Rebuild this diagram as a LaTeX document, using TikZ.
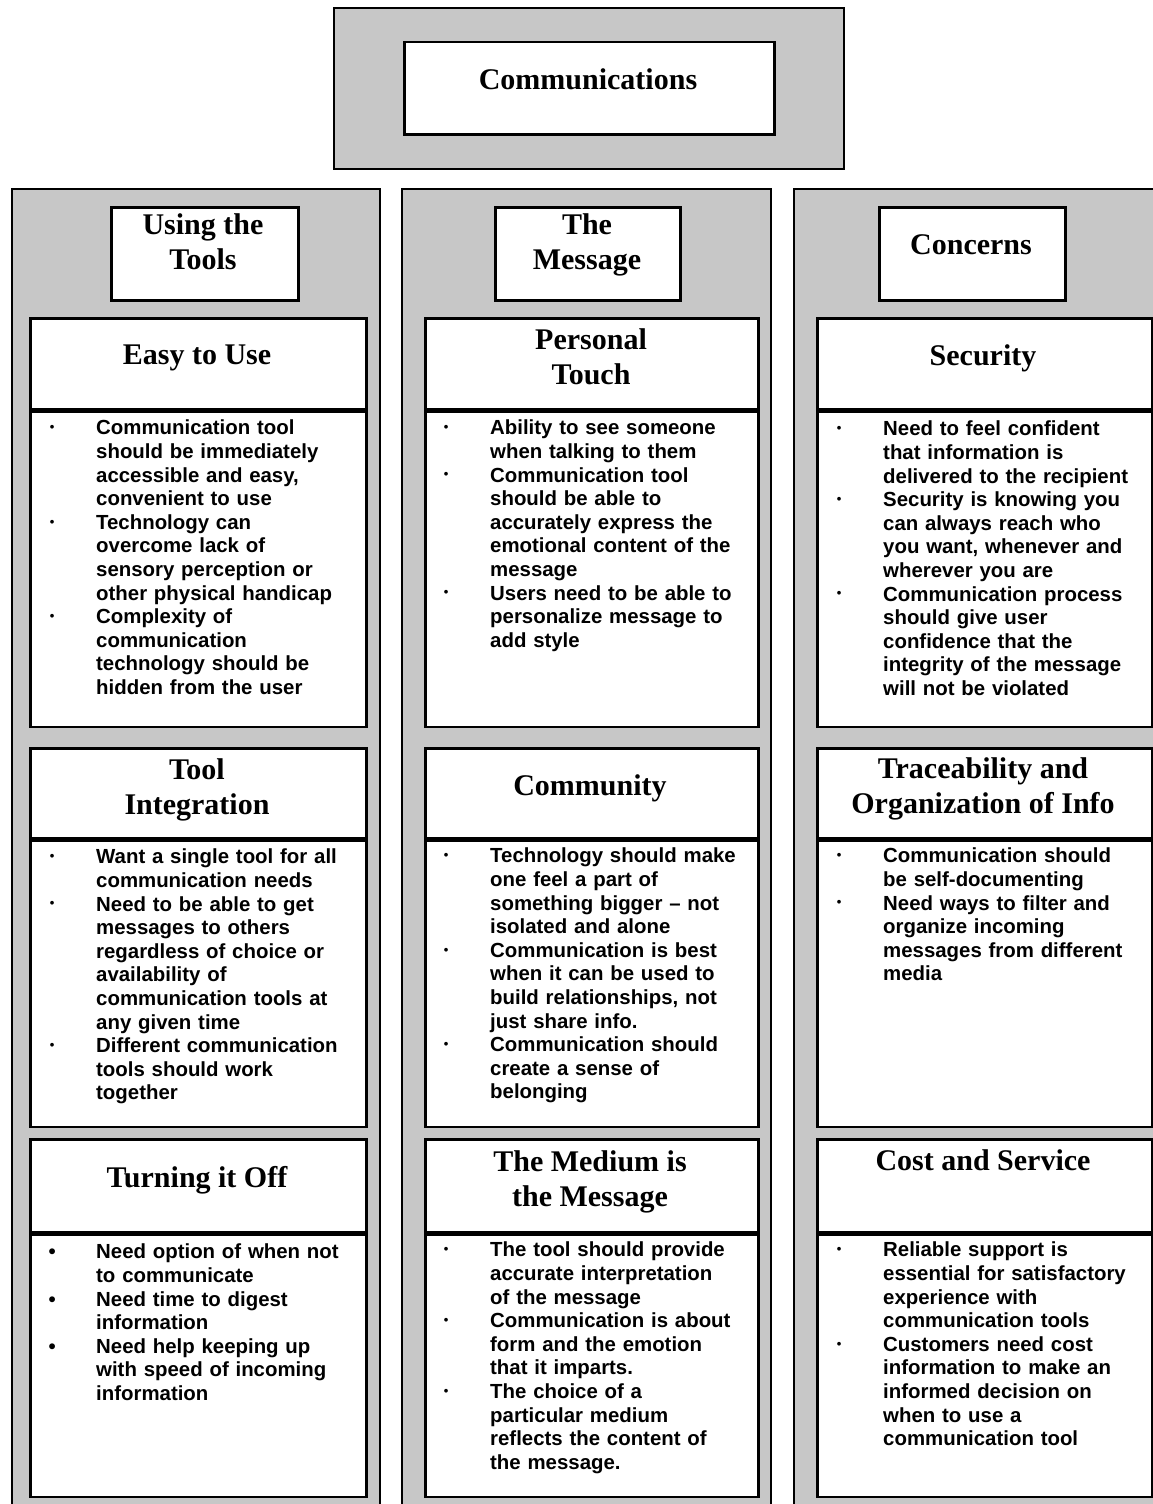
\documentclass[tikz,border=0pt]{standalone}
\usepackage{fontspec}
\setmainfont{Liberation Serif}
\newfontfamily\bodyfont{Liberation Sans}
\definecolor{panelgray}{gray}{0.78}

% bullet marks: small dot and large dot, centred 44pt left of the text
\newcommand\sbul{\leavevmode\llap{\makebox[88pt][c]{\raisebox{3.2pt}{\fontsize{13}{13}\selectfont\textbullet}}}}
\newcommand\lbul{\leavevmode\llap{\makebox[88pt][c]{\textbullet}}}

\tikzset{
  panel/.style={rectangle, draw=black, line width=2pt, fill=panelgray, inner sep=0pt, anchor=north west},
  tag/.style={rectangle, draw=black, line width=2.5pt, fill=white, inner sep=0pt, anchor=north west},
  heading/.style={inner sep=0pt, anchor=north, align=center, font=\fontsize{30}{35}\selectfont\bfseries},
  points/.style={inner sep=0pt, anchor=north west, text width=300pt, align=left,
                 font=\bodyfont\bfseries\fontsize{20.4}{23.6}\selectfont},
}

\begin{document}
\begin{tikzpicture}[x=1pt,y=-1pt]
\clip (0,0) rectangle (1153,1504);
\fill[white] (0,0) rectangle (1153,1504);

% top banner
\node[panel, minimum width=510pt, minimum height=161pt] (top) at (333,7) {};
\node[tag, minimum width=370pt, minimum height=92pt] (topin) at (403,41) {};
\node[heading] (toptitle) at (588,68) {Communications};

% three column panels
\node[panel, minimum width=368pt, minimum height=1340pt] (colA) at (11,188) {};
\node[panel, minimum width=369pt, minimum height=1340pt] (colB) at (401,188) {};
\node[panel, minimum width=390pt, minimum height=1340pt] (colC) at (793,188) {};

% column headings
\node[tag, minimum width=187pt, minimum height=93pt] (hA) at (110,206) {};
\node[tag, minimum width=185pt, minimum height=93pt] (hB) at (494,206) {};
\node[tag, minimum width=186pt, minimum height=93pt] (hC) at (878,206) {};
\node[heading] (hAt) at (203,213) {Using the\\Tools};
\node[heading] (hBt) at (587,213) {The\\Message};
\node[heading] (hCt) at (971,234) {Concerns};

% ---- column A cards
\node[tag, minimum width=336pt, minimum height=91pt]  (A1h) at (29,317) {};
\node[tag, minimum width=336pt, minimum height=315pt] (A1b) at (A1h.south west) {};
\node[tag, minimum width=336pt, minimum height=90pt]  (A2h) at (29,747) {};
\node[tag, minimum width=336pt, minimum height=286pt] (A2b) at (A2h.south west) {};
\node[tag, minimum width=336pt, minimum height=93pt]  (A3h) at (29,1138) {};
\node[tag, minimum width=336pt, minimum height=262pt] (A3b) at (A3h.south west) {};

% ---- column B cards
\node[tag, minimum width=333pt, minimum height=91pt]  (B1h) at (424,317) {};
\node[tag, minimum width=333pt, minimum height=315pt] (B1b) at (B1h.south west) {};
\node[tag, minimum width=333pt, minimum height=90pt]  (B2h) at (424,747) {};
\node[tag, minimum width=333pt, minimum height=286pt] (B2b) at (B2h.south west) {};
\node[tag, minimum width=333pt, minimum height=93pt]  (B3h) at (424,1138) {};
\node[tag, minimum width=333pt, minimum height=262pt] (B3b) at (B3h.south west) {};

% ---- column C cards
\node[tag, minimum width=335pt, minimum height=91pt]  (C1h) at (816,317) {};
\node[tag, minimum width=335pt, minimum height=315pt] (C1b) at (C1h.south west) {};
\node[tag, minimum width=335pt, minimum height=90pt]  (C2h) at (816,747) {};
\node[tag, minimum width=335pt, minimum height=286pt] (C2b) at (C2h.south west) {};
\node[tag, minimum width=335pt, minimum height=93pt]  (C3h) at (816,1138) {};
\node[tag, minimum width=335pt, minimum height=262pt] (C3b) at (C3h.south west) {};

% card titles
\node[heading] (A1t) at (197,345)  {Easy to Use};
\node[heading] (A2t) at (197,758)  {Tool\\Integration};
\node[heading] (A3t) at (197,1166) {Turning it Off};
\node[heading] (B1t) at (591,328)  {Personal\\Touch};
\node[heading] (B2t) at (590,774)  {Community};
\node[heading] (B3t) at (590,1150) {The Medium is\\the Message};
\node[heading] (C1t) at (983,344)  {Security};
\node[heading] (C2t) at (983,757)  {Traceability and\\Organization of Info};
\node[heading] (C3t) at (983,1149) {Cost and Service};

% card bullet lists
\node[points] (A1p) at (96,420) {%
\sbul Communication tool\\should be immediately\\accessible and easy,\\convenient to use\\
\sbul Technology can\\overcome lack of\\sensory perception or\\other physical handicap\\
\sbul Complexity of\\communication\\technology should be\\hidden from the user};

\node[points] (A2p) at (96,849) {%
\sbul Want a single tool for all\\communication needs\\
\sbul Need to be able to get\\messages to others\\regardless of choice or\\availability of\\communication tools at\\any given time\\
\sbul Different communication\\tools should work\\together};

\node[points] (A3p) at (96,1244) {%
\lbul Need option of when not\\to communicate\\
\lbul Need time to digest\\information\\
\lbul Need help keeping up\\with speed of incoming\\information};

\node[points] (B1p) at (490,420) {%
\sbul Ability to see someone\\when talking to them\\
\sbul Communication tool\\should be able to\\accurately express the\\emotional content of the\\message\\
\sbul Users need to be able to\\personalize message to\\add style};

\node[points] (B2p) at (490,848) {%
\sbul Technology should make\\one feel a part of\\something bigger – not\\isolated and alone\\
\sbul Communication is best\\when it can be used to\\build relationships, not\\just share info.\\
\sbul Communication should\\create a sense of\\belonging};

\node[points] (B3p) at (490,1242) {%
\sbul The tool should provide\\accurate interpretation\\of the message\\
\sbul Communication is about\\form and the emotion\\that it imparts.\\
\sbul The choice of a\\particular medium\\reflects the content of\\the message.};

\node[points] (C1p) at (883,421) {%
\sbul Need to feel confident\\that information is\\delivered to the recipient\\
\sbul Security is knowing you\\can always reach who\\you want, whenever and\\wherever you are\\
\sbul Communication process\\should give user\\confidence that the\\integrity of the message\\will not be violated};

\node[points] (C2p) at (883,848) {%
\sbul Communication should\\be self-documenting\\
\sbul Need ways to filter and\\organize incoming\\messages from different\\media};

\node[points] (C3p) at (883,1242) {%
\sbul Reliable support is\\essential for satisfactory\\experience with\\communication tools\\
\sbul Customers need cost\\information to make an\\informed decision on\\when to use a\\communication tool};
\end{tikzpicture}
\end{document}
